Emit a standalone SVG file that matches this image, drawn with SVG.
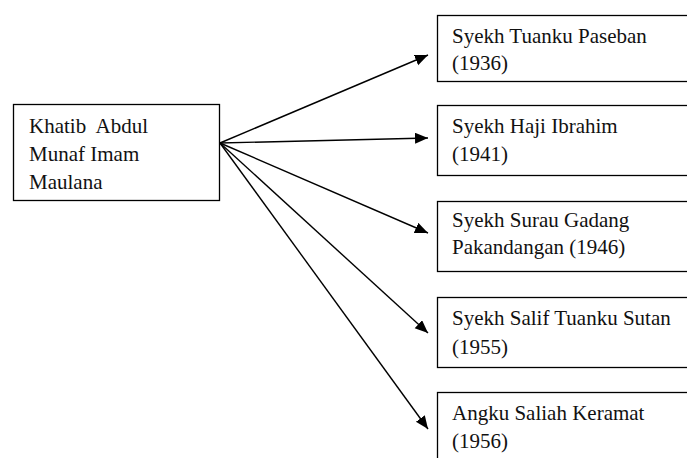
<svg xmlns="http://www.w3.org/2000/svg" width="687" height="458" viewBox="0 0 687 458">
<style>
.box{fill:#fff;stroke:#000;stroke-width:1.3}
.t{font-family:"Liberation Serif","Times New Roman",serif;font-size:21px;fill:#111}
.c{stroke:#000;stroke-width:1.4;fill:none}
</style>
<defs>
<marker id="ah" markerUnits="userSpaceOnUse" markerWidth="14" markerHeight="12" refX="13" refY="5.5" orient="auto">
<path d="M0,0 L13,5.5 L0,11 z" fill="#000"/>
</marker>
</defs>
<rect width="687" height="458" fill="#fff"/>
<g id="connectors">
<line class="c" x1="220" y1="143" x2="428" y2="55" marker-end="url(#ah)"/>
<line class="c" x1="220" y1="143" x2="428" y2="138" marker-end="url(#ah)"/>
<line class="c" x1="220" y1="143" x2="428" y2="233" marker-end="url(#ah)"/>
<line class="c" x1="220" y1="143" x2="428" y2="333" marker-end="url(#ah)"/>
<line class="c" x1="220" y1="143" x2="428" y2="429" marker-end="url(#ah)"/>
</g>
<g id="source">
<rect class="box" x="13.5" y="104.5" width="206" height="96"/>
<text class="t" x="29" y="133" xml:space="preserve">Khatib  Abdul</text>
<text class="t" x="29" y="161">Munaf Imam</text>
<text class="t" x="29" y="189">Maulana</text>
</g>
<g id="n1">
<rect class="box" x="437.5" y="15.5" width="260" height="66"/>
<text class="t" x="452" y="43">Syekh Tuanku Paseban</text>
<text class="t" x="452" y="70">(1936)</text>
</g>
<g id="n2">
<rect class="box" x="437.5" y="105.5" width="260" height="70"/>
<text class="t" x="452" y="133">Syekh Haji Ibrahim</text>
<text class="t" x="452" y="161">(1941)</text>
</g>
<g id="n3">
<rect class="box" x="437.5" y="201.5" width="260" height="70"/>
<text class="t" x="452" y="227">Syekh Surau Gadang</text>
<text class="t" x="452" y="254">Pakandangan (1946)</text>
</g>
<g id="n4">
<rect class="box" x="437.5" y="297.5" width="260" height="70"/>
<text class="t" x="452" y="325">Syekh Salif Tuanku Sutan</text>
<text class="t" x="452" y="354">(1955)</text>
</g>
<g id="n5">
<rect class="box" x="437.5" y="392.5" width="260" height="80"/>
<text class="t" x="452" y="420">Angku Saliah Keramat</text>
<text class="t" x="452" y="448">(1956)</text>
</g>
</svg>
